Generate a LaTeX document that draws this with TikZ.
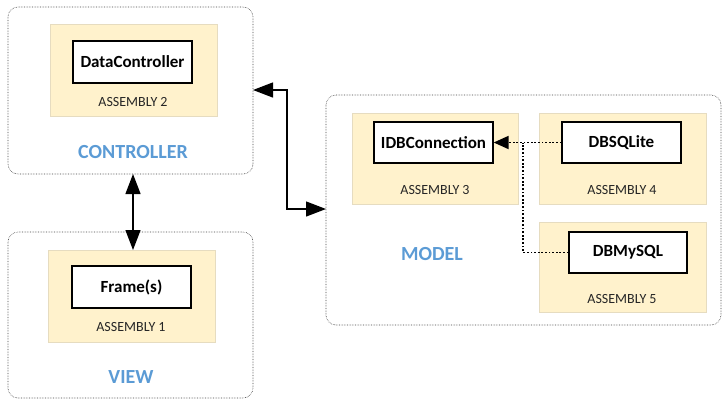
\documentclass[tikz,border=0pt]{standalone}
\usepackage{fontspec}
\setmainfont{Carlito}
\usetikzlibrary{arrows.meta}
\definecolor{asmfill}{HTML}{FFF2CC}
\definecolor{asmline}{HTML}{E6DCC0}
\definecolor{titleblue}{HTML}{5B9BD5}
\tikzset{
  outer/.style={draw=black!75, densely dotted, rounded corners=10pt, line width=0.6pt},
  asm/.style={fill=asmfill, draw=asmline, line width=0.6pt},
  cls/.style={draw=black, fill=white, line width=1.3pt, font=\fontsize{17}{19}\selectfont\bfseries},
  asmlabel/.style={font=\fontsize{14}{16}\selectfont, text=black!85},
  title/.style={font=\fontsize{20}{22}\selectfont\bfseries, text=titleblue},
  bigtip/.tip={Triangle[length=20pt,width=15pt]},
  smalltip/.tip={Triangle[length=15pt,width=13pt]},
  biconn/.style={line width=1.3pt, bigtip-bigtip},
  dep/.style={line width=1.8pt, dash pattern=on 1.8pt off 1.8pt, -smalltip},
  depline/.style={line width=1.8pt, dash pattern=on 1.8pt off 1.8pt}
}
\begin{document}
\begin{tikzpicture}[x=1pt,y=-1pt]
\useasboundingbox (0,0) rectangle (723,400);
% outer containers
\draw[outer] (8,7) rectangle (253,174);
\draw[outer] (8,232) rectangle (253,398);
\draw[outer] (326,95) rectangle (721,325);
\coordinate (ctrlR) at (253,90);
\coordinate (modelL) at (326,209);
\coordinate (ctrlB) at (133,174);
\coordinate (viewT) at (133,250);
% assemblies
\node[asm, minimum width=167pt, minimum height=92pt, inner sep=0pt] (a2) at (133.5,70) {};
\node[asm, minimum width=167pt, minimum height=92pt, inner sep=0pt] (a1) at (131.5,296) {};
\node[asm, minimum width=166pt, minimum height=91pt, inner sep=0pt] (a3) at (435,158.5) {};
\node[asm, minimum width=167pt, minimum height=91pt, inner sep=0pt] (a4) at (622.5,158.5) {};
\node[asm, minimum width=167pt, minimum height=90pt, inner sep=0pt] (a5) at (622.5,267) {};
% classes
\node[cls, minimum width=119pt, minimum height=42pt, inner sep=0pt] (dc) at (132.5,62) {DataController};
\node[cls, minimum width=119pt, minimum height=42pt, inner sep=0pt] (fr) at (131.5,287) {Frame(s)};
\node[cls, minimum width=119pt, minimum height=41pt, inner sep=0pt] (idb) at (433.5,142.5) {IDBConnection};
\node[cls, minimum width=119pt, minimum height=41pt, inner sep=0pt] (sql) at (621.5,142.5) {DBSQLite};
\node[cls, minimum width=118pt, minimum height=41pt, inner sep=0pt] (my) at (628,252.5) {DBMySQL};
% assembly labels
\node[asmlabel] (l2) at (133,102) {ASSEMBLY 2};
\node[asmlabel] (l1) at (131,327) {ASSEMBLY 1};
\node[asmlabel] (l3) at (435,190) {ASSEMBLY 3};
\node[asmlabel] (l4) at (622,190) {ASSEMBLY 4};
\node[asmlabel] (l5) at (622,299) {ASSEMBLY 5};
% titles
\node[title] (tc) at (133,152) {CONTROLLER};
\node[title] (tv) at (131,377) {VIEW};
\node[title] (tm) at (432,254) {MODEL};
% connectors
\draw[biconn] (ctrlB) -- (viewT);
\draw[biconn] (ctrlR) -- (287,90) -- (287,209) -- (modelL);
\draw[dep] (sql.west) -- (idb.east);
\coordinate (jn) at (523,142.5);
\draw[depline] (my.west) -| (jn);
\end{tikzpicture}
\end{document}
